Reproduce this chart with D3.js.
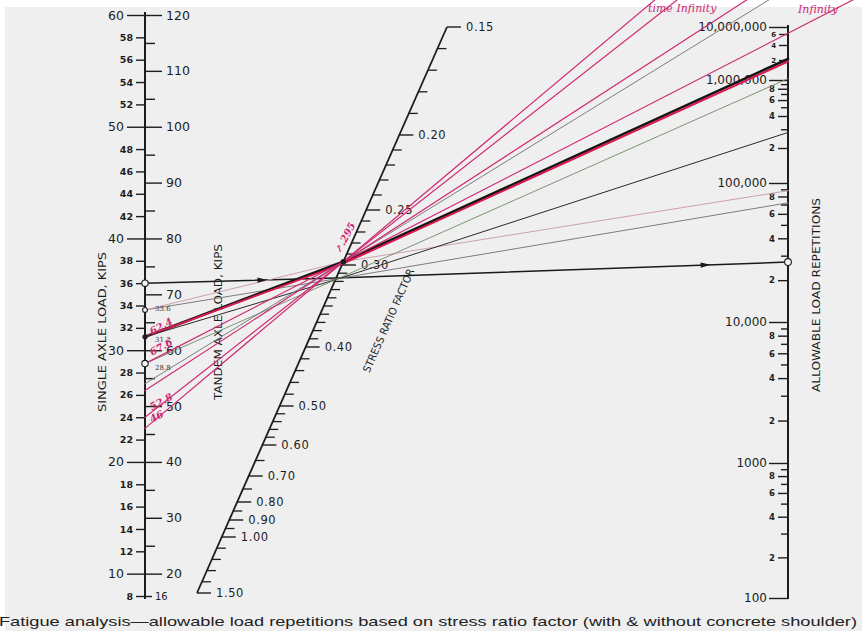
<!DOCTYPE html>
<html><head><meta charset="utf-8">
<script src="https://cdn.jsdelivr.net/npm/d3@7"></script>
<style>
html,body{margin:0;padding:0;background:#fff;}
svg{display:block;}
</style></head><body>
<svg id="chart" width="862" height="642"></svg>
<script>
// ---- scale values ----
// single-axle load (kips); the tandem scale on the same stem is twice these
const singleMinor = d3.range(8, 60, 2).filter(v => v % 10 !== 0);
const singleMajor = [10, 20, 30, 40, 50, 60];
const tandemMinor = d3.range(25, 120, 10);
const tandemMajor = [20, 30, 40, 50, 60, 70, 80, 90, 100, 110, 120];
const tandemEnd = [16];

// stress ratio factor (middle, slanted)
const srLabelled = [0.15, 0.20, 0.25, 0.30, 0.40, 0.50, 0.60, 0.70, 0.80, 0.90, 1.00, 1.50];
const srMinor = [
  ...d3.range(15, 40).map(v => v / 100),
  ...d3.range(40, 60, 2).map(v => v / 100),
  ...d3.range(60, 100, 5).map(v => v / 100),
  ...d3.range(10, 16).map(v => v / 10)
];

// allowable load repetitions (right)
const repDecades = [100, 1000, 10000, 100000, 1000000, 10000000];
const repDecadeLabels = ["100", "1000", "10,000", "100,000", "1,000,000", "10,000,000"];
const repSteps = [2, 3, 4, 5, 6, 7, 8, 9];
const repStepsTop = [2, 4, 6];
const repStepLabels = [2, 4, 6, 8];

// construction lines: load (single-axle kips) -> stress ratio -> repetitions
const lineLoad = [36.0, 33.6, 33.6, 31.2, 31.2, 31.2, 28.8, 28.8, 27.0, 26.4, 24.0, 23.0];
const lineSR   = [0.316, 0.317, 0.297, 0.297, 0.299, 0.318, 0.318, 0.297, 0.297, 0.297, 0.297, 0.297];
const lineReps = [27000, 72000, 88000, 2100000, 1900000, 280000, 1050000, Infinity, Infinity, Infinity, Infinity, Infinity];
const lineKind = ["path", "grey", "pink", "heavy", "red", "thin", "green", "magenta", "grey", "magenta", "magenta", "magenta"];

// handwritten notes next to the start points (tandem kips in red, single kips in pencil)
const noteTandem = ["62.4", "67.6", "52.8", "46"];
const noteTandemLoad = [31.35, 29.5, 24.6, 23.5];
const noteSingle = ["33.6", "31.2", "28.8"];
const noteSingleLoad = [33.5, 30.7, 28.2];
const pivotNote = ".295";
const pivotSR = 0.297;
const limitNotes = ["time Infinity", "Infinity"];

const caption = "Fatigue analysis\u2014allowable load repetitions based on stress ratio factor (with & without concrete shoulder)";

// ---- drawing ----
const W = 862, H = 642;
const ink = "#1d1d1d";
const magenta = "#cf2a74";
const svg = d3.select("#chart");

svg.append("rect").attr("width", W).attr("height", H).attr("fill", "#ffffff");
svg.append("rect").attr("x", 5).attr("y", 7).attr("width", W - 5).attr("height", 624).attr("fill", "#efefef");

const lettering = "'DejaVu Sans', sans-serif";

// left stem: single axle on the left, tandem on the right
const stemX = 145;
const ySingle = d3.scaleLinear().domain([8, 60]).range([596, 15]);
const yTandem = d3.scaleLinear().domain([16, 120]).range([596, 15]);

const left = svg.append("g").attr("class", "load-scale");
left.append("line").attr("x1", stemX).attr("x2", stemX).attr("y1", 12).attr("y2", 599)
  .attr("stroke", ink).attr("stroke-width", 2);

function styleAxis(g, size, weight) {
  g.select(".domain").remove();
  g.selectAll(".tick line").attr("stroke", ink).attr("stroke-width", 1.4);
  g.selectAll(".tick text").attr("fill", ink).attr("font-family", lettering)
    .attr("font-size", size).attr("font-weight", weight);
}

left.append("g").attr("transform", `translate(${stemX},0)`)
  .call(d3.axisLeft(ySingle).tickValues(singleMajor).tickSize(18).tickPadding(3).tickFormat(d3.format("d")))
  .call(g => styleAxis(g, 12.5, "normal"));
left.append("g").attr("transform", `translate(${stemX},0)`)
  .call(d3.axisLeft(ySingle).tickValues(singleMinor).tickSize(9).tickPadding(3).tickFormat(d3.format("d")))
  .call(g => styleAxis(g, 9.5, "bold"));
left.append("g").attr("transform", `translate(${stemX},0)`)
  .call(d3.axisRight(yTandem).tickValues(tandemMajor).tickSize(17).tickPadding(4).tickFormat(d3.format("d")))
  .call(g => styleAxis(g, 12.5, "normal"));
left.append("g").attr("transform", `translate(${stemX},0)`)
  .call(d3.axisRight(yTandem).tickValues(tandemMinor).tickSize(10).tickFormat(""))
  .call(g => styleAxis(g, 9, "normal"));
left.append("g").attr("transform", `translate(${stemX},0)`)
  .call(d3.axisRight(yTandem).tickValues(tandemEnd).tickSize(7).tickPadding(3).tickFormat(d3.format("d")))
  .call(g => styleAxis(g, 10, "normal"));

left.append("text").attr("transform", "translate(106,332) rotate(-90)")
  .attr("text-anchor", "middle").attr("font-family", lettering).attr("font-size", 10.5)
  .attr("fill", ink).attr("textLength", 160).attr("lengthAdjust", "spacingAndGlyphs")
  .text("SINGLE AXLE LOAD, KIPS");
left.append("text").attr("transform", "translate(222,322) rotate(-90)")
  .attr("text-anchor", "middle").attr("font-family", lettering).attr("font-size", 10.5)
  .attr("fill", ink).attr("textLength", 156).attr("lengthAdjust", "spacingAndGlyphs")
  .text("TANDEM AXLE LOAD, KIPS");

// middle slanted stress-ratio stem
const srTop = { x: 447, y: 27 }, srBot = { x: 197, y: 593 };
const ySR = d3.scaleLinear()
  .domain([0.15, 0.20, 0.25, 0.30, 0.40, 0.50, 0.60, 0.70, 0.80, 0.90, 1.00, 1.50])
  .range([27, 135, 210, 265, 347, 406, 445, 476, 502, 520, 537, 593]);
const stemXAt = y => srTop.x + (y - srTop.y) * (srBot.x - srTop.x) / (srBot.y - srTop.y);
const srPoint = v => { const y = ySR(v); return [stemXAt(y), y]; };

const mid = svg.append("g").attr("class", "sr-scale");
mid.append("line").attr("x1", srTop.x).attr("y1", srTop.y).attr("x2", srBot.x).attr("y2", srBot.y)
  .attr("stroke", ink).attr("stroke-width", 1.8);
const isLabelled = v => srLabelled.some(s => Math.abs(s - v) < 1e-6);
mid.selectAll("line.minor").data(srMinor.filter(v => !isLabelled(v))).join("line")
  .attr("class", "minor")
  .attr("x1", d => srPoint(d)[0]).attr("x2", d => srPoint(d)[0] + 9)
  .attr("y1", d => srPoint(d)[1]).attr("y2", d => srPoint(d)[1])
  .attr("stroke", ink).attr("stroke-width", 1.3);
mid.selectAll("line.major").data(srLabelled).join("line")
  .attr("class", "major")
  .attr("x1", d => srPoint(d)[0]).attr("x2", d => srPoint(d)[0] + 14)
  .attr("y1", d => srPoint(d)[1]).attr("y2", d => srPoint(d)[1])
  .attr("stroke", ink).attr("stroke-width", 1.4);
mid.selectAll("text.lab").data(srLabelled).join("text")
  .attr("class", "lab")
  .attr("x", d => srPoint(d)[0] + 19).attr("y", d => srPoint(d)[1] + 4)
  .attr("font-family", lettering).attr("font-size", 11.5).attr("fill", ink)
  .attr("letter-spacing", 0.6)
  .text(d => d3.format(".2f")(d));

const srAngle = Math.atan2(srBot.y - srTop.y, srBot.x - srTop.x) * 180 / Math.PI - 180;
mid.append("text").attr("transform", `translate(392,322) rotate(${srAngle})`)
  .attr("text-anchor", "middle").attr("font-family", lettering).attr("font-size", 10.5)
  .attr("fill", ink).attr("textLength", 112).attr("lengthAdjust", "spacingAndGlyphs")
  .text("STRESS RATIO FACTOR");

// right stem: allowable repetitions (log-based, compressed towards the top)
const repX = 788;
const yRepLog = d3.scaleLinear()
  .domain([2, 3, 4, 5, 5.301, 5.602, 6, 6.301, 6.602, 6.778, 7])
  .range([598, 463, 322, 183, 148, 116, 80, 60, 45, 34, 27]);
const yRep = n => yRepLog(Math.log10(n));

const right = svg.append("g").attr("class", "rep-scale");
right.append("line").attr("x1", repX).attr("x2", repX).attr("y1", 25).attr("y2", 599)
  .attr("stroke", ink).attr("stroke-width", 2);

const repMinorVals = [];
repDecades.slice(0, -1).forEach((d, i) => {
  const steps = i === repDecades.length - 2 ? repStepsTop : repSteps;
  steps.forEach(s => repMinorVals.push({ v: d * s, s, top: i === repDecades.length - 2 }));
});
const repLabelled = repMinorVals.filter(d => repStepLabels.includes(d.s) && !d.top);
const repLabelledTop = repMinorVals.filter(d => repStepLabels.includes(d.s) && d.top);
const repPlain = repMinorVals.filter(d => !repStepLabels.includes(d.s));
const fmtRepDecade = v => repDecadeLabels[repDecades.indexOf(v)];

right.append("g").attr("transform", `translate(${repX},0)`)
  .call(d3.axisLeft(yRepLog).tickValues(repDecades.map(Math.log10)).tickSize(19).tickPadding(2)
    .tickFormat(l => fmtRepDecade(Math.round(Math.pow(10, l)))))
  .call(g => styleAxis(g, 12, "normal"));
right.append("g").attr("transform", `translate(${repX},0)`)
  .call(d3.axisLeft(yRepLog).tickValues(repLabelled.map(d => Math.log10(d.v))).tickSize(10).tickPadding(3)
    .tickFormat((l, i) => repLabelled[i].s))
  .call(g => styleAxis(g, 8.5, "bold"));
// the top decade is squeezed, so its figures are set smaller
right.append("g").attr("transform", `translate(${repX},0)`)
  .call(d3.axisLeft(yRepLog).tickValues(repLabelledTop.map(d => Math.log10(d.v))).tickSize(9).tickPadding(3)
    .tickFormat((l, i) => repLabelledTop[i].s))
  .call(g => styleAxis(g, 7, "bold"));
right.append("g").attr("transform", `translate(${repX},0)`)
  .call(d3.axisLeft(yRepLog).tickValues(repPlain.map(d => Math.log10(d.v))).tickSize(7).tickFormat(""))
  .call(g => styleAxis(g, 8, "normal"));

right.append("text").attr("transform", "translate(820,295) rotate(-90)")
  .attr("text-anchor", "middle").attr("font-family", lettering).attr("font-size", 10.5)
  .attr("fill", ink).attr("textLength", 194).attr("lengthAdjust", "spacingAndGlyphs")
  .text("ALLOWABLE LOAD REPETITIONS");

// construction lines
const kindStyle = {
  path:    { stroke: "#1a1a1a", width: 1.5 },
  grey:    { stroke: "#7d7d7d", width: 1.0 },
  pink:    { stroke: "#cf9fb1", width: 1.0 },
  heavy:   { stroke: "#151515", width: 2.7 },
  red:     { stroke: "#d81a4e", width: 2.0 },
  thin:    { stroke: "#2a2a2a", width: 1.0 },
  green:   { stroke: "#6f8a63", width: 0.9 },
  magenta: { stroke: magenta,   width: 1.2 }
};

const lines = lineLoad.map((load, i) => {
  const a = [stemX, ySingle(load)];
  const p = srPoint(lineSR[i]);
  let b;
  if (Number.isFinite(lineReps[i])) {
    b = [repX, yRep(lineReps[i])];
  } else {
    // no fatigue limit: carry the line on until it leaves the sheet
    const dx = p[0] - a[0], dy = p[1] - a[1];
    const t = Math.min((-2 - p[1]) / dy, (W + 2 - p[0]) / dx);
    b = [p[0] + dx * t, p[1] + dy * t];
  }
  return { pts: [a, p, b], kind: lineKind[i] };
});

const lineGen = d3.line();
svg.append("g").attr("class", "construction").selectAll("path").data(lines).join("path")
  .attr("d", d => lineGen(d.pts)).attr("fill", "none")
  .attr("stroke", d => kindStyle[d.kind].stroke)
  .attr("stroke-width", d => kindStyle[d.kind].width)
  .attr("stroke-linecap", "round");

// arrowheads along the worked example
const arrow = (p0, p1, f) => {
  const x = p0[0] + (p1[0] - p0[0]) * f, y = p0[1] + (p1[1] - p0[1]) * f;
  const ang = Math.atan2(p1[1] - p0[1], p1[0] - p0[0]) * 180 / Math.PI;
  svg.append("path").attr("d", "M4,0 L-6,-2.6 L-6,2.6 Z").attr("fill", "#1a1a1a")
    .attr("transform", `translate(${x},${y}) rotate(${ang})`);
};
const ex = lines[0].pts;
arrow(ex[0], ex[1], 0.62);
arrow(ex[1], ex[2], 0.82);

// markers
const marks = svg.append("g").attr("class", "marks");
[36.0, 33.6, 28.8].forEach(v => marks.append("circle").attr("cx", stemX).attr("cy", ySingle(v))
  .attr("r", v === 33.6 ? 2.4 : 3.2).attr("fill", "#f4f4f4").attr("stroke", ink).attr("stroke-width", 1.1));
marks.append("circle").attr("cx", stemX).attr("cy", ySingle(31.2)).attr("r", 2.6).attr("fill", ink);
marks.append("circle").attr("cx", srPoint(pivotSR)[0]).attr("cy", srPoint(pivotSR)[1]).attr("r", 2.8).attr("fill", ink);
marks.append("circle").attr("cx", repX).attr("cy", yRep(lineReps[0])).attr("r", 3.4)
  .attr("fill", "#f4f4f4").attr("stroke", ink).attr("stroke-width", 1.1);

// handwritten notes
const hand = "'DejaVu Serif', serif";
const notes = svg.append("g").attr("class", "notes");
noteTandem.forEach((t, i) => notes.append("text")
  .attr("transform", `translate(${stemX + 7},${ySingle(noteTandemLoad[i])}) rotate(-28)`)
  .attr("font-family", hand).attr("font-style", "italic").attr("font-weight", "bold")
  .attr("font-size", 10).attr("fill", magenta).text(t));
noteSingle.forEach((t, i) => notes.append("text")
  .attr("x", stemX + 10).attr("y", ySingle(noteSingleLoad[i]))
  .attr("font-family", hand).attr("font-size", 7).attr("fill", "#333").text(t));
const pv = srPoint(pivotSR);
notes.append("text").attr("transform", `translate(${pv[0] - 3},${pv[1] - 8}) rotate(-62)`)
  .attr("font-family", hand).attr("font-style", "italic").attr("font-weight", "bold")
  .attr("font-size", 10).attr("fill", magenta).text("\u2197" + pivotNote);
notes.append("text").attr("x", 648).attr("y", 12)
  .attr("font-family", hand).attr("font-style", "italic").attr("font-size", 11)
  .attr("fill", magenta).text(limitNotes[0]);
notes.append("text").attr("x", 798).attr("y", 13)
  .attr("font-family", hand).attr("font-style", "italic").attr("font-size", 11)
  .attr("fill", magenta).text(limitNotes[1]);

// caption
svg.append("text").attr("x", -1).attr("y", 626)
  .attr("font-family", "'Liberation Sans', Arial, sans-serif").attr("font-size", 13.5)
  .attr("fill", "#222").attr("textLength", 858).attr("lengthAdjust", "spacingAndGlyphs")
  .text(caption);
</script>
</body></html>
